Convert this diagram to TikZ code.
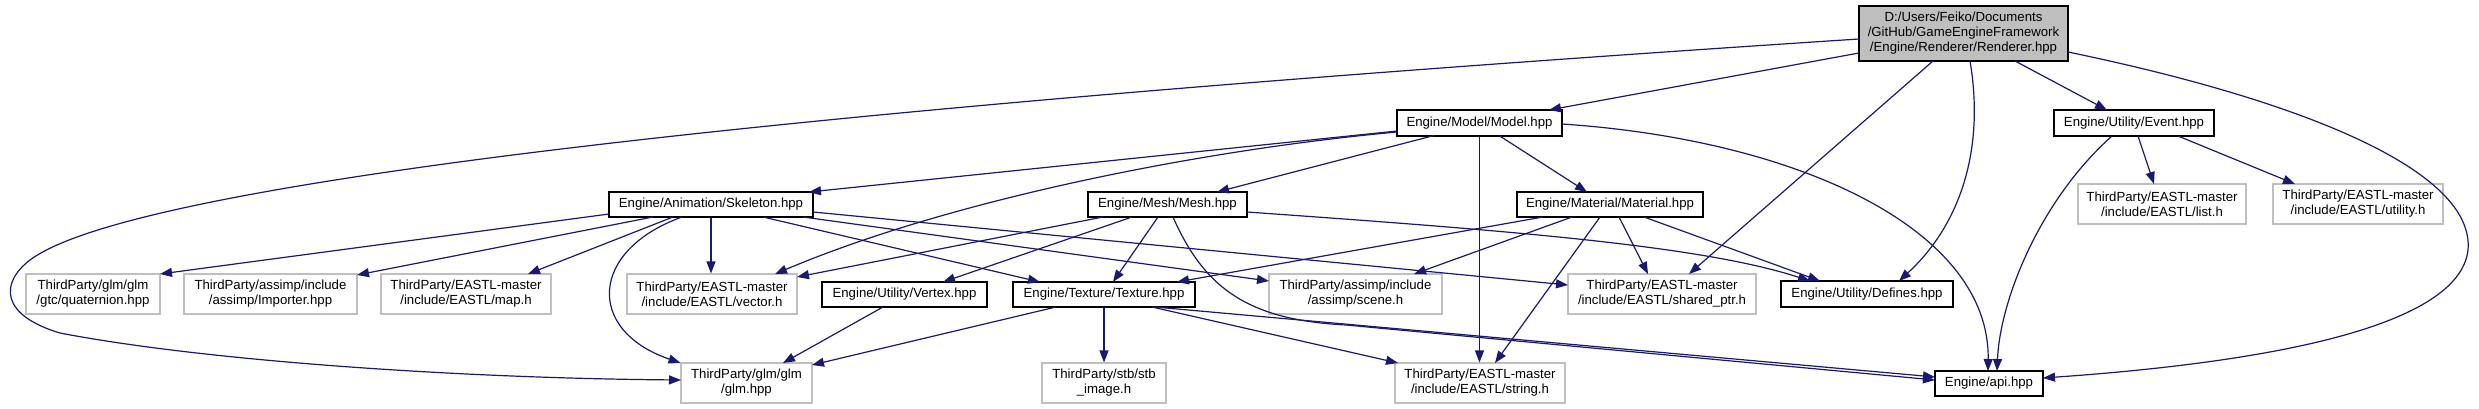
\documentclass[tikz,border=0pt]{standalone}
\usepackage{fontspec}
\setmainfont{Liberation Sans}
\usetikzlibrary{arrows.meta,calc}
\definecolor{edgec}{HTML}{191970}
\definecolor{gborder}{HTML}{BFBFBF}
\begin{document}
\begin{tikzpicture}[x=1pt,y=-1pt,
  nd/.style 2 args={minimum width=#1pt,minimum height=#2pt,inner sep=0pt,align=center,
    font=\fontsize{13.2}{15}\selectfont,line width=1.1pt,fill=white},
  eng/.style={draw=black},
  ext/.style={draw=gborder},
  rootn/.style={draw=black,fill=gborder},
  dep/.style={draw=edgec,line width=1.2pt,-{Triangle[length=12pt,width=9pt]}}]
\useasboundingbox (0,0) rectangle (2479,409);

% nodes
\node[nd={209}{55},rootn] (root) at (1963.5,33.5) {D:/Users/Feiko/Documents\\/GitHub/GameEngineFramework\\/Engine/Renderer/Renderer.hpp};
\node[nd={165}{26},eng] (model) at (1479.5,123) {Engine/Model/Model.hpp};
\node[nd={160}{26},eng] (event) at (2134,123) {Engine/Utility/Event.hpp};
\node[nd={204}{25},eng] (skel) at (711,204.5) {Engine/Animation/Skeleton.hpp};
\node[nd={159}{25},eng] (mesh) at (1167.5,204.5) {Engine/Mesh/Mesh.hpp};
\node[nd={186}{25},eng] (mat) at (1610,204.5) {Engine/Material/Material.hpp};
\node[nd={168}{40},ext] (list) at (2162,204) {ThirdParty/EASTL-master\\/include/EASTL/list.h};
\node[nd={170}{40},ext] (util) at (2358,204) {ThirdParty/EASTL-master\\/include/EASTL/utility.h};
\node[nd={134}{40},ext] (quat) at (93,294) {ThirdParty/glm/glm\\/gtc/quaternion.hpp};
\node[nd={173}{40},ext] (imp) at (270.5,294) {ThirdParty/assimp/include\\/assimp/Importer.hpp};
\node[nd={170}{40},ext] (map) at (466,294) {ThirdParty/EASTL-master\\/include/EASTL/map.h};
\node[nd={170}{40},ext] (vec) at (712,294) {ThirdParty/EASTL-master\\/include/EASTL/vector.h};
\node[nd={165}{25},eng] (vert) at (904.5,294.5) {Engine/Utility/Vertex.hpp};
\node[nd={182}{25},eng] (tex) at (1104,294.5) {Engine/Texture/Texture.hpp};
\node[nd={173}{40},ext] (scene) at (1355.5,294) {ThirdParty/assimp/include\\/assimp/scene.h};
\node[nd={188}{40},ext] (shp) at (1662,294) {ThirdParty/EASTL-master\\/include/EASTL/shared\_ptr.h};
\node[nd={172}{26},eng] (def) at (1867,294) {Engine/Utility/Defines.hpp};
\node[nd={131}{40},ext] (glm) at (746.5,383) {ThirdParty/glm/glm\\/glm.hpp};
\node[nd={124}{40},ext] (stb) at (1104,383) {ThirdParty/stb/stb\\\_image.h};
\node[nd={170}{40},ext] (str) at (1480,383) {ThirdParty/EASTL-master\\/include/EASTL/string.h};
\node[nd={108}{25},eng] (api) at (1989,383.5) {Engine/api.hpp};

% root
\draw[dep] ($(root)+(-104.5,5.5)$) .. controls (1000,95) and (150,170) .. (30,260)
  .. controls (0,283) and (0,315) .. (60,333) .. controls (200,360) and (450,378) .. ($(glm)+(-65.5,-3)$);
\draw[dep] ($(root)+(-104.5,19.5)$) -- ($(model)+(69.5,-13)$);
\draw[dep] ($(root)+(-30.5,27.5)$) -- ($(shp)+(27,-20)$);
\draw[dep] ($(root)+(6.5,27.5)$) .. controls (1985,150) and (1960,225) .. ($(def)+(32,-13)$);
\draw[dep] ($(root)+(51.5,27.5)$) -- ($(event)+(-27,-13)$);
\draw[dep] ($(root)+(104.5,18.5)$) .. controls (2300,100) and (2475,170) .. (2468,250)
  .. controls (2460,320) and (2300,360) .. ($(api)+(54,-5.5)$);

% model
\draw[dep] ($(model)+(-82.5,8)$) -- ($(skel)+(98,-12.5)$);
\draw[dep] ($(model)+(-82.5,9)$) .. controls (1200,150) and (950,200) .. ($(vec)+(63,-20)$);
\draw[dep] ($(model)+(-45.5,12.5)$) -- ($(mesh)+(49.5,-12.5)$);
\draw[dep] ($(model)+(19.5,12.5)$) -- ($(mat)+(-23,-12.5)$);
\draw[dep] (model.south) -- (model.south |- str.north);
\draw[dep] ($(model)+(82.5,1)$) .. controls (1800,140) and (1990,230) .. ($(api)+(-1,-12.5)$);

% event
\draw[dep] ($(event)+(4,13)$) -- ($(list)+(-8,-20)$);
\draw[dep] ($(event)+(44,13)$) -- ($(util)+(-63,-20)$);
\draw[dep] ($(event)+(-22,13)$) .. controls (2040,200) and (2000,300) .. ($(api)+(8,-12.5)$);

% skeleton
\draw[dep] ($(skel)+(-102,9.5)$) -- ($(quat)+(67,-20)$);
\draw[dep] ($(skel)+(-58,12.5)$) -- ($(imp)+(86.5,-19)$);
\draw[dep] ($(skel)+(-38,12.5)$) -- ($(map)+(62,-20)$);
\draw[dep] (skel.south) -- (skel.south |- vec.north);
\draw[dep] ($(skel)+(-29,12.5)$) .. controls (590,250) and (585,330) .. ($(glm)+(-66,-20)$);
\draw[dep] ($(skel)+(52,12.5)$) -- ($(tex)+(-64,-12.5)$);
\draw[dep] ($(skel)+(92,12.5)$) -- ($(scene)+(-86.5,-13)$);
\draw[dep] ($(skel)+(102,7.5)$) -- ($(shp)+(-94,-9)$);

% mesh
\draw[dep] ($(mesh)+(-64.5,12.5)$) -- ($(vec)+(85,-17)$);
\draw[dep] ($(mesh)+(-35.5,12.5)$) -- ($(vert)+(38.5,-12.5)$);
\draw[dep] ($(mesh)+(-9.5,12.5)$) -- ($(tex)+(9,-12.5)$);
\draw[dep] ($(mesh)+(5.5,12.5)$) .. controls (1205,290) and (1250,320) .. (1346,325) -- ($(api)+(-54,-3.5)$);
\draw[dep] ($(mesh)+(79.5,7.5)$) .. controls (1500,230) and (1700,245) .. ($(def)+(-57,-13)$);

% material
\draw[dep] ($(mat)+(-67,12.5)$) -- ($(tex)+(73,-12.5)$);
\draw[dep] ($(mat)+(-38,12.5)$) -- ($(scene)+(58.5,-20)$);
\draw[dep] ($(mat)+(-10,12.5)$) -- ($(str)+(15,-20)$);
\draw[dep] ($(mat)+(9,12.5)$) -- ($(shp)+(-14,-20)$);
\draw[dep] ($(mat)+(34,12.5)$) -- ($(def)+(-47,-13)$);

% texture
\draw[dep] ($(tex)+(-48,12.5)$) -- ($(glm)+(65.5,-18)$);
\draw[dep] (tex.south) -- (stb.north);
\draw[dep] ($(tex)+(48,12.5)$) -- ($(str)+(-82,-20)$);
\draw[dep] ($(tex)+(51,12.5)$) -- ($(api)+(-54,-6.5)$);

% vertex
\draw[dep] ($(vert)+(-21.5,12.5)$) -- ($(glm)+(36.5,-20)$);
\end{tikzpicture}
\end{document}
